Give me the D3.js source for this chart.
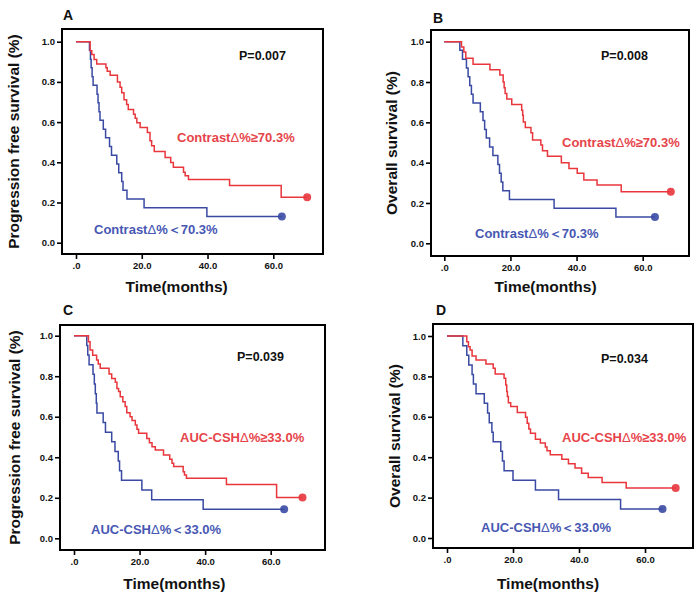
<!DOCTYPE html>
<html>
<head>
<meta charset="utf-8">
<script src="https://cdnjs.cloudflare.com/ajax/libs/d3/7.8.5/d3.min.js"></script>
<style>
  body { margin: 0; background: #fff; }
  text { font-family: "Liberation Sans", Arial, sans-serif; font-weight: bold; }
</style>
</head>
<body>
<div id="chart_container"></div>
<script>

// ---- data (months, survival proportion) ----

var x_ticks = [0, 20, 40, 60]
var y_ticks = [0, 0.2, 0.4, 0.6, 0.8, 1.0]

// A: PFS by Contrast delta
var pfs_contrast_high_t = [4.3, 4.8, 5.5, 6.3, 9.1, 9.5, 10.4, 12.6, 13.4, 13.9, 14.6, 15.4, 15.9, 17.5, 18.0, 18.5, 19.5, 21.7, 22.5, 23.0, 23.8, 27.1, 28.8, 29.6, 32.7, 33.2, 34.2, 46.7, 62.4]
var pfs_contrast_high_s = [0.955, 0.936, 0.911, 0.889, 0.870, 0.853, 0.833, 0.799, 0.774, 0.746, 0.711, 0.688, 0.663, 0.639, 0.619, 0.597, 0.573, 0.548, 0.507, 0.482, 0.454, 0.424, 0.399, 0.375, 0.350, 0.333, 0.314, 0.284, 0.226]
var pfs_contrast_high_end = 70.3
var pfs_contrast_low_t = [4.1, 4.4, 4.6, 4.9, 5.2, 6.4, 6.7, 7.0, 7.3, 8.3, 9.0, 10.2, 10.8, 12.4, 13.0, 13.9, 14.3, 15.5, 20.7, 39.8]
var pfs_contrast_low_s = [0.957, 0.913, 0.870, 0.826, 0.783, 0.739, 0.696, 0.652, 0.609, 0.565, 0.522, 0.478, 0.435, 0.391, 0.348, 0.304, 0.261, 0.217, 0.174, 0.130]
var pfs_contrast_low_end = 62.6

// B: OS by Contrast delta
var os_contrast_high_t = [5.2, 5.9, 6.5, 8.7, 13.8, 16.8, 17.8, 18.1, 18.4, 18.9, 20.4, 23.4, 23.7, 23.9, 24.5, 26.2, 26.7, 29.2, 29.7, 31.2, 35.4, 37.7, 40.2, 42.2, 46.2, 53.5]
var os_contrast_high_s = [0.974, 0.949, 0.918, 0.888, 0.861, 0.835, 0.800, 0.772, 0.743, 0.716, 0.688, 0.660, 0.635, 0.602, 0.574, 0.548, 0.512, 0.487, 0.459, 0.432, 0.399, 0.371, 0.347, 0.314, 0.289, 0.256]
var os_contrast_high_end = 68.5
var os_contrast_low_t = [4.7, 5.5, 6.7, 7.2, 7.7, 8.2, 8.7, 10.9, 11.7, 12.2, 12.7, 13.7, 14.7, 16.2, 16.7, 17.2, 17.7, 19.7, 33.2, 51.9]
var os_contrast_low_s = [0.957, 0.913, 0.870, 0.826, 0.783, 0.739, 0.696, 0.652, 0.609, 0.565, 0.522, 0.478, 0.435, 0.391, 0.348, 0.304, 0.261, 0.217, 0.174, 0.130]
var os_contrast_low_end = 63.7

// C: PFS by AUC-CSH delta
var pfs_auc_high_t = [4.4, 4.9, 5.7, 6.9, 7.4, 8.0, 10.7, 11.5, 12.6, 13.1, 13.6, 14.1, 14.9, 15.6, 16.1, 17.1, 17.7, 18.7, 19.2, 19.7, 22.2, 23.0, 23.8, 24.8, 27.3, 29.2, 29.9, 30.4, 33.3, 33.7, 34.3, 46.5, 61.8]
var pfs_auc_high_s = [0.970, 0.929, 0.903, 0.880, 0.860, 0.839, 0.811, 0.789, 0.770, 0.740, 0.724, 0.699, 0.674, 0.650, 0.620, 0.600, 0.581, 0.559, 0.538, 0.518, 0.493, 0.472, 0.452, 0.436, 0.411, 0.390, 0.370, 0.354, 0.329, 0.313, 0.296, 0.266, 0.201]
var pfs_auc_high_end = 69.7
var pfs_auc_low_t = [3.9, 4.2, 4.6, 5.8, 6.2, 6.5, 6.8, 7.0, 8.9, 9.6, 11.5, 12.5, 13.5, 13.9, 14.5, 20.7, 23.7, 39.4]
var pfs_auc_low_s = [0.952, 0.905, 0.857, 0.810, 0.762, 0.714, 0.667, 0.619, 0.571, 0.524, 0.476, 0.429, 0.381, 0.333, 0.286, 0.238, 0.190, 0.143]
var pfs_auc_low_end = 64.1

// D: OS by AUC-CSH delta
var os_auc_high_t = [6.0, 6.5, 7.0, 7.6, 8.8, 11.8, 14.0, 14.6, 17.3, 17.8, 18.1, 18.3, 18.6, 19.3, 21.3, 23.8, 24.3, 24.8, 25.3, 26.8, 28.3, 29.8, 30.3, 31.3, 34.8, 36.8, 38.8, 40.8, 42.8, 47.0, 54.3]
var os_auc_high_s = [0.972, 0.947, 0.931, 0.901, 0.881, 0.862, 0.840, 0.812, 0.791, 0.758, 0.725, 0.700, 0.670, 0.651, 0.621, 0.598, 0.568, 0.539, 0.519, 0.489, 0.470, 0.450, 0.432, 0.412, 0.390, 0.367, 0.346, 0.321, 0.300, 0.275, 0.247]
var os_auc_high_end = 69.3
var os_auc_low_t = [4.8, 6.0, 6.6, 7.6, 8.0, 8.8, 11.3, 12.3, 12.8, 13.6, 14.0, 16.3, 16.8, 17.3, 20.0, 26.8, 33.8, 52.6]
var os_auc_low_s = [0.952, 0.905, 0.857, 0.810, 0.762, 0.714, 0.667, 0.619, 0.571, 0.524, 0.476, 0.429, 0.381, 0.333, 0.286, 0.238, 0.190, 0.143]
var os_auc_low_end = 65.3

var red_line = "#e8363c", blue_line = "#3a4aa3"
var red_text = "#e6444a", blue_text = "#4757b3"

// panel layout (pixels)
var panels = [
    { letter: "A", box: [62, 29, 323, 254], xr: [76, 273.3], yr: [242.7, 41.7], ylabel: "Progression free survival (%)", ylx: 14,
      high: [pfs_contrast_high_t, pfs_contrast_high_s, pfs_contrast_high_end], low: [pfs_contrast_low_t, pfs_contrast_low_s, pfs_contrast_low_end],
      p: "P=0.007", pPos: [239, 59.5], hiLab: ["Contrast", "%\u226570.3%"], hiPos: [177, 141.5], loLab: ["Contrast", "%\uff1c70.3%"], loPos: [94, 233.5],
      letterPos: [63, 20], titleY: 292 },
    { letter: "B", box: [431, 30, 689, 256], xr: [444.3, 642.7], yr: [243.3, 41.7], ylabel: "Overall survival (%)", ylx: 392,
      high: [os_contrast_high_t, os_contrast_high_s, os_contrast_high_end], low: [os_contrast_low_t, os_contrast_low_s, os_contrast_low_end],
      p: "P=0.008", pPos: [601, 59.5], hiLab: ["Contrast", "%\u226570.3%"], hiPos: [562, 146.5], loLab: ["Contrast", "%\uff1c70.3%"], loPos: [475, 237.5],
      letterPos: [433, 23], titleY: 292 },
    { letter: "C", box: [60, 325, 325, 550], xr: [74, 270.7], yr: [538.3, 335.7], ylabel: "Progression free survival (%)", ylx: 15,
      high: [pfs_auc_high_t, pfs_auc_high_s, pfs_auc_high_end], low: [pfs_auc_low_t, pfs_auc_low_s, pfs_auc_low_end],
      p: "P=0.039", pPos: [237, 360.5], hiLab: ["AUC-CSH", "%\u226533.0%"], hiPos: [180, 441.5], loLab: ["AUC-CSH", "%\uff1c33.0%"], loPos: [91, 533.5],
      letterPos: [63, 315], titleY: 589 },
    { letter: "D", box: [433, 324, 693, 548], xr: [447, 645], yr: [538, 336], ylabel: "Overall survival (%)", ylx: 395,
      high: [os_auc_high_t, os_auc_high_s, os_auc_high_end], low: [os_auc_low_t, os_auc_low_s, os_auc_low_end],
      p: "P=0.034", pPos: [601, 362.5], hiLab: ["AUC-CSH", "%\u226533.0%"], hiPos: [562, 441.5], loLab: ["AUC-CSH", "%\uff1c33.0%"], loPos: [481, 531.5],
      letterPos: [436, 315], titleY: 589 }
]

var svg = d3.select("#chart_container")
            .append("svg")
            .attr("width", 700)
            .attr("height", 598)

function km_points(curve){
    // curve = [times, survival, end time]
    var pts = [[0, 1]]
    for(i=0; i<curve[0].length; i++){
        pts.push([curve[0][i], curve[1][i]])
    }
    pts.push([curve[2], curve[1][curve[1].length-1]])
    return pts
}

function draw_panel(cfg){

    var g = svg.append("g")
    var x = d3.scaleLinear().domain([0, 60]).range(cfg.xr)
    var y = d3.scaleLinear().domain([0, 1]).range(cfg.yr)
    var b = cfg.box

    // y axis ticks, sitting just outside the box
    g.append("g")
        .attr("transform", "translate(" + b[0] + ",0)")
        .call(d3.axisLeft(y).tickValues(y_ticks).tickSize(5).tickSizeOuter(0).tickPadding(2)
                .tickFormat(d3.format(".1f")))
        .call(function(a){ a.select(".domain").remove() })

    g.append("g")
        .attr("transform", "translate(0," + b[3] + ")")
        .call(d3.axisBottom(x).tickValues(x_ticks).tickSize(5).tickSizeOuter(0).tickPadding(3)
                .tickFormat(function(d){ return d == 0 ? ".0" : d3.format(".1f")(d) }))
        .call(function(a){ a.select(".domain").remove() })

    g.selectAll(".tick line").attr("stroke", "#000").attr("stroke-width", 1.6)
    g.selectAll(".tick text").attr("fill", "#111").style("font-size", "9.5px")
        .style("font-family", "'Liberation Sans', Arial, sans-serif").style("font-weight", "bold")

    // frame
    g.append("rect")
        .attr("x", b[0]).attr("y", b[1])
        .attr("width", b[2]-b[0]).attr("height", b[3]-b[1])
        .attr("fill", "none").attr("stroke", "#000").attr("stroke-width", 2)

    var line = d3.line()
                .x(function(d){ return x(d[0]) })
                .y(function(d){ return y(d[1]) })
                .curve(d3.curveStepAfter)

    var groups = [[cfg.low, blue_line], [cfg.high, red_line]]
    groups.forEach(function(gr){
        var pts = km_points(gr[0])
        g.append("path")
            .attr("d", line(pts))
            .attr("fill", "none")
            .attr("stroke", gr[1])
            .attr("stroke-width", 1.5)
        var last = pts[pts.length-1]
        g.append("circle")
            .attr("cx", x(last[0])).attr("cy", y(last[1]))
            .attr("r", 4)
            .attr("fill", gr[1]).attr("opacity", 0.9)
    })

    // curve labels
    var labs = [[cfg.hiLab, cfg.hiPos, red_text], [cfg.loLab, cfg.loPos, blue_text]]
    labs.forEach(function(l){
        var t = g.append("text")
                    .attr("x", l[1][0]).attr("y", l[1][1])
                    .attr("fill", l[2])
                    .style("font-size", "13px")
        t.append("tspan").text(l[0][0])
        t.append("tspan").text("\u0394").style("font-weight", "normal")
        t.append("tspan").text(l[0][1])
    })

    g.append("text")
        .attr("x", cfg.pPos[0]).attr("y", cfg.pPos[1])
        .attr("fill", "#111")
        .style("font-size", "12.5px")
        .text(cfg.p)

    g.append("text")
        .attr("x", cfg.letterPos[0]).attr("y", cfg.letterPos[1])
        .attr("fill", "#111")
        .style("font-size", "14px")
        .text(cfg.letter)

    // axis titles
    g.append("text")
        .attr("x", (cfg.xr[0] + cfg.xr[1]) / 2 + 2).attr("y", cfg.titleY)
        .attr("text-anchor", "middle")
        .attr("fill", "#111")
        .style("font-size", "15.5px")
        .text("Time(months)")

    g.append("text")
        .attr("transform", "translate(" + cfg.ylx + "," + ((b[1] + b[3]) / 2) + ") rotate(-90)")
        .attr("text-anchor", "middle")
        .attr("dy", "0.35em")
        .attr("fill", "#111")
        .style("font-size", "15.5px")
        .text(cfg.ylabel)
}

panels.forEach(draw_panel)

</script>
</body>
</html>
